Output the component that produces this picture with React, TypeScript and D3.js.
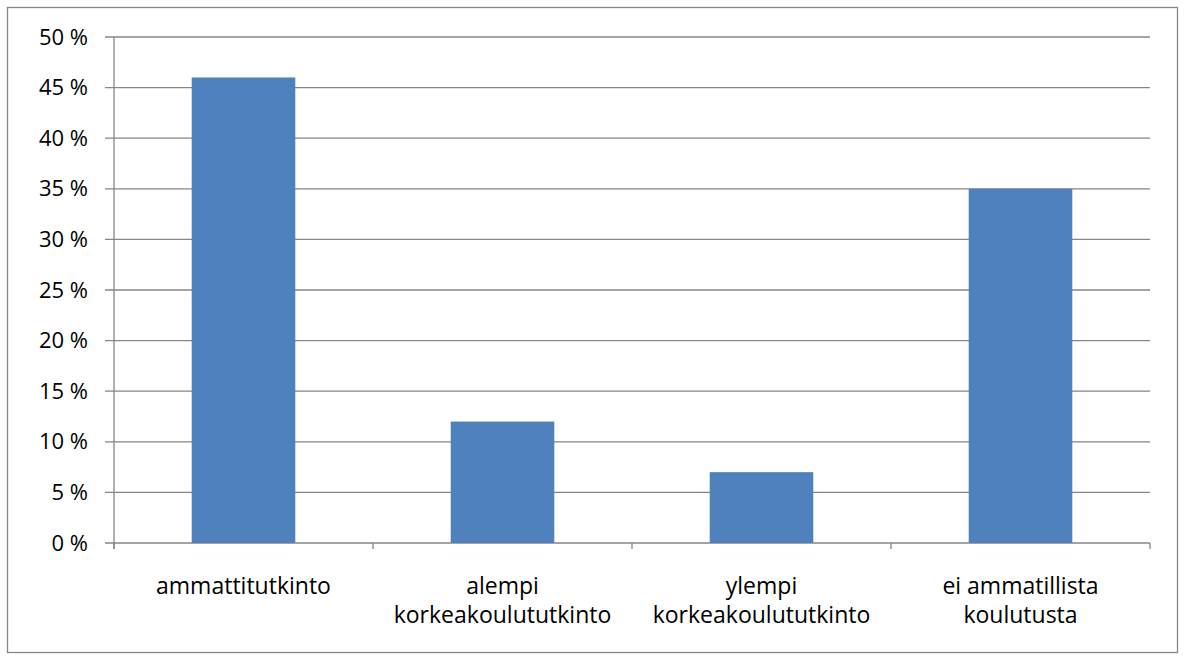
import React from "react";
import * as d3 from "d3";

const categories: string[][] = [
  ["ammattitutkinto"],
  ["alempi", "korkeakoulututkinto"],
  ["ylempi", "korkeakoulututkinto"],
  ["ei ammatillista", "koulutusta"],
];
const values: number[] = [46, 12, 7, 35];
const yTicks: number[] = [0, 5, 10, 15, 20, 25, 30, 35, 40, 45, 50];

const W = 1186;
const H = 660;
const left = 114;
const right = 1150;
const top = 37;
const bottom = 543;
const font = "'Open Sans', 'Liberation Sans', sans-serif";
const grid = "#868686";

export default function App() {
  const x = d3
    .scaleBand<number>()
    .domain(categories.map((_, i) => i))
    .range([left, right])
    .paddingInner(0.6)
    .paddingOuter(0.3);
  const y = d3.scaleLinear().domain([0, 50]).range([bottom, top]);
  const step = (right - left) / categories.length;

  return (
    <svg
      width={W}
      height={H}
      style={{ position: "absolute", left: 0, top: 0, background: "#fff" }}
      fontFamily={font}
    >
      <rect x={7.5} y={7.5} width={1170} height={645} fill="#fff" stroke={grid} strokeWidth={1.3} />
      {yTicks.map((t) => (
        <g key={t}>
          <line x1={105} x2={right} y1={y(t)} y2={y(t)} stroke={grid} strokeWidth={1.3} />
          <text x={88} y={y(t) + 7.5} textAnchor="end" fontSize={22} fill="#000">
            {t} %
          </text>
        </g>
      ))}
      <line x1={left} x2={left} y1={top} y2={bottom + 6} stroke={grid} strokeWidth={1.3} />
      {d3.range(categories.length + 1).map((i) => (
        <line
          key={i}
          x1={left + i * step}
          x2={left + i * step}
          y1={bottom}
          y2={bottom + 6}
          stroke={grid}
          strokeWidth={1.3}
        />
      ))}
      {values.map((v, i) => (
        <rect
          key={i}
          x={x(i)}
          y={y(v)}
          width={x.bandwidth()}
          height={bottom - y(v)}
          fill="#4F81BD"
        />
      ))}
      {categories.map((lines, i) => (
        <text
          key={i}
          x={(x(i) as number) + x.bandwidth() / 2}
          y={594}
          textAnchor="middle"
          fontSize={23}
          fill="#000"
        >
          {lines.map((l, j) => (
            <tspan key={j} x={(x(i) as number) + x.bandwidth() / 2} dy={j === 0 ? 0 : 29}>
              {l}
            </tspan>
          ))}
        </text>
      ))}
    </svg>
  );
}
